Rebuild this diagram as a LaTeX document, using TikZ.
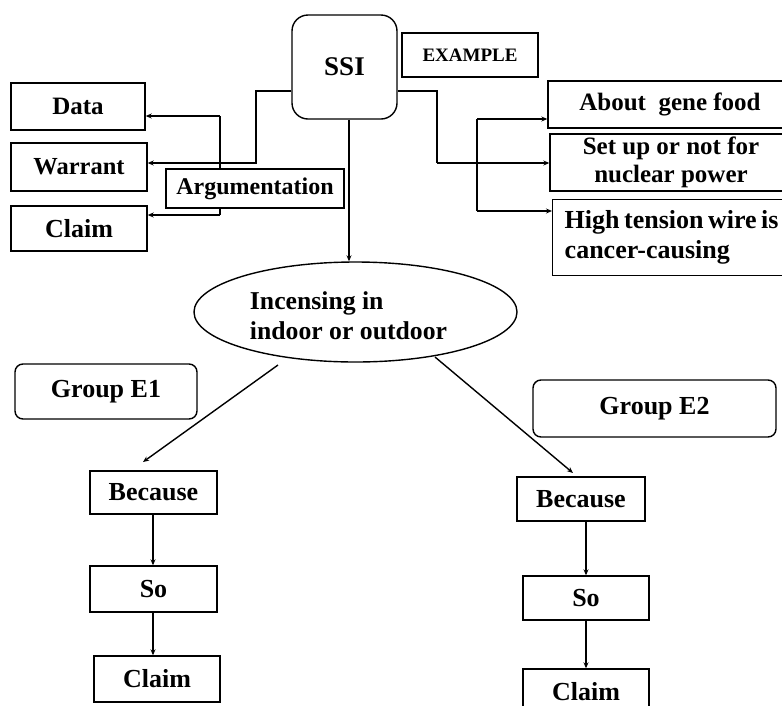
\documentclass[tikz,border=0pt]{standalone}
\usepackage{fontspec}
\setmainfont{Liberation Serif}
\usetikzlibrary{arrows.meta,shapes.geometric}
\newcommand\fntsz[2]{\fontsize{#1}{#2}\selectfont\bfseries}
\newcommand\narrowsp{\spaceskip=4.5pt plus 1pt\relax}
\begin{document}
\begin{tikzpicture}[x=1pt,y=-1pt,
  box/.style={draw, line width=1.4pt, fill=white, inner sep=0pt, font=\fntsz{26}{29}},
  rbox/.style={box, rounded corners=#1},
  conn/.style={line width=1.4pt},
  arr/.style={conn, -{Stealth[length=6pt,width=5pt]}}]
\useasboundingbox (0,0) rectangle (782,705);
\clip (0,0) rectangle (782,705);
% top
\node[rbox=16pt, minimum width=105pt, minimum height=104pt, font=\fntsz{27}{30}] (ssi) at (344.5,67) {SSI};
\node[box, minimum width=136pt, minimum height=44pt, font=\fntsz{19}{22}] (example) at (470,55) {EXAMPLE};
% left side
\node[box, minimum width=134pt, minimum height=47pt, font=\fntsz{25}{28}] (data) at (78,106.5) {Data};
\node[box, minimum width=136pt, minimum height=48pt, font=\fntsz{24.5}{28}] (warrant) at (79,167) {Warrant};
\node[box, minimum width=136pt, minimum height=45pt, font=\fntsz{26}{28}] (claima) at (79,228.5) {Claim};
\coordinate (lj1) at (256,163);
\coordinate (lj2) at (220,163);
\coordinate (lt) at (220,116);
\coordinate (lb) at (220,215);
\draw[conn] (ssi.west |- 0,91) -| (lj1) -- (lj2);
\draw[conn] (lt) -- (lb);
\draw[arr] (lt) -- (data.east |- lt);
\draw[arr] (lj2) -- (warrant.east |- lj2);
\draw[arr] (lb) -- (claima.east |- lb);
\node[box, minimum width=178pt, minimum height=39pt, font=\fntsz{24}{28}] (arg) at (255,188.5) {Argumentation};
% right side
\node[box, minimum width=244pt, minimum height=47pt, font=\fntsz{25}{29}] (about) at (670,104.5) {About\ \ gene food};
\node[box, minimum width=242pt, minimum height=57pt, align=center, font=\fntsz{25}{28}] (setup) at (671,162.5) {Set up or not for\\nuclear power};
\node[box, anchor=north west, text width=240pt, inner xsep=12pt, minimum height=76pt, align=left, font=\fntsz{26}{30}] (high) at (552,199) {\narrowsp High tension wire is\\cancer-causing};
\coordinate (rj1) at (437,91);
\coordinate (rj2) at (437,163);
\coordinate (rt) at (477,119);
\coordinate (rb) at (477,211);
\draw[conn] (ssi.east |- rj1) -- (rj1) -- (rj2);
\draw[arr] (rj2) -- (setup.west |- rj2);
\draw[conn] (rt) -- (rb);
\draw[arr] (rt) -- (about.west |- rt);
\draw[arr] (rb) -- (high.west |- rb);
% ellipse
\node[draw, ellipse, line width=1.4pt, minimum width=323pt, minimum height=100pt, inner sep=0pt] (ell) at (355.5,312) {};
\node[align=left, inner sep=0pt, font=\fntsz{25.7}{30}] (elltext) at (348.5,316) {Incensing in\\indoor or outdoor};
\draw[arr] (ssi.south -| 349,0) -- (ell.north -| 349,0);
% groups
\node[rbox=8pt, minimum width=182pt, minimum height=55pt] (g1) at (106,391.5) {Group E1};
\node[rbox=8pt, minimum width=243pt, minimum height=57pt] (g2) at (654.5,408.5) {Group E2};
% left column
\node[box, minimum width=127pt, minimum height=43pt] (because1) at (153.5,492.5) {Because};
\node[box, minimum width=127pt, minimum height=46pt] (so1) at (153.5,589) {So};
\node[box, minimum width=126pt, minimum height=46pt] (claim1) at (157,679) {Claim};
% right column
\node[box, minimum width=128pt, minimum height=44pt] (because2) at (581,499) {Because};
\node[box, minimum width=126pt, minimum height=44pt] (so2) at (586,598) {So};
\node[box, minimum width=126pt, minimum height=46pt] (claim2) at (586,692) {Claim};
% connectors from ellipse
\coordinate (es1) at (278,365);
\coordinate (et1) at (143,462);
\coordinate (es2) at (435,357);
\coordinate (et2) at (573,473);
\draw[arr] (es1) -- (et1);
\draw[arr] (es2) -- (et2);
\draw[arr] (because1.south -| 153,0) -- (so1.north -| 153,0);
\draw[arr] (so1.south -| 153,0) -- (claim1.north -| 153,0);
\draw[arr] (because2.south -| so2.north) -- (so2.north);
\draw[arr] (so2.south) -- (claim2.north);
\end{tikzpicture}
\end{document}
